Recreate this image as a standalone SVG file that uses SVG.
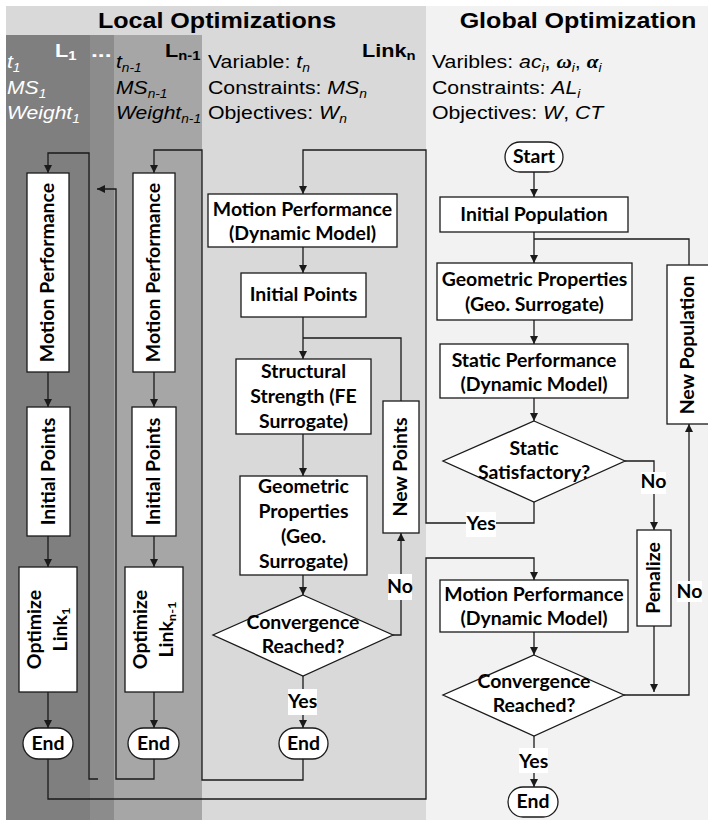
<svg xmlns="http://www.w3.org/2000/svg" width="708" height="820" viewBox="0 0 708 820">
  <style>
    .bx { fill: #fff; stroke: #1a1a1a; stroke-width: 1.3; }
    .ln { fill: none; stroke: #1a1a1a; stroke-width: 1.3; }
    .arr { marker-end: url(#ah); }
    .t { font-family: Lato, "Open Sans", sans-serif; font-weight: 700; font-size: 18px; text-anchor: middle; fill: #000;
         transform-box: fill-box; transform-origin: center; transform: scaleX(1.08); }
    .lbl { fill: #fff; }
    .hd { font-family: "Liberation Sans", Arial, sans-serif; font-weight: 700; font-size: 22px; text-anchor: middle; fill: #000; }
    .info { font-family: "Liberation Sans", Arial, sans-serif; font-size: 18.5px; fill: #000; }
    .it { font-style: italic; }
    .tag { font-family: "Liberation Sans", Arial, sans-serif; font-weight: 700; font-size: 19px; }
    .gk { font-family: "Liberation Serif", "Times New Roman", serif; font-weight: 700; font-style: italic; }
  </style>
  <defs>
    <marker id="ah" viewBox="0 0 10 10" refX="10" refY="5" markerWidth="8" markerHeight="8" markerUnits="userSpaceOnUse" orient="auto">
      <path d="M0,0 L10,5 L0,10 z" fill="#1a1a1a"/>
    </marker>
  </defs>

  <!-- panels -->
  <g id="panels">
    <rect x="0" y="0" width="708" height="820" fill="#fff"/>
    <rect x="6" y="6" width="420" height="814" fill="#d9d9d9"/>
    <rect x="426" y="6" width="282" height="814" fill="#f2f2f2"/>
    <rect x="6" y="35" width="84" height="785" fill="#7f7f7f"/>
    <rect x="90" y="35" width="24" height="785" fill="#8c8c8c"/>
    <rect x="114" y="35" width="88" height="785" fill="#a6a6a6"/>
  </g>

  <!-- headings -->
  <g id="headings">
    <text class="hd" transform="translate(217,28) scale(1.14,1)">Local Optimizations</text>
    <text class="hd" transform="translate(578,28) scale(1.14,1)">Global Optimization</text>
  </g>

  <!-- link 1 panel info -->
  <g id="info-l1" fill="#fff">
    <text class="tag" fill="#fff" transform="translate(55,57) scale(1.14,1)">L<tspan font-size="13" dy="3">1</tspan></text>
    <text class="tag" fill="#fff" transform="translate(91,57) scale(1.3,1)">...</text>
    <g transform="translate(7,0) scale(1.14,1)" class="info it" fill="#fff">
      <text x="0" y="68" fill="#fff">t<tspan font-size="12" dy="4">1</tspan></text>
      <text x="0" y="94" fill="#fff">MS<tspan font-size="12" dy="4">1</tspan></text>
      <text x="0" y="119" fill="#fff">Weight<tspan font-size="12" dy="4">1</tspan></text>
    </g>
  </g>

  <!-- link n-1 panel info -->
  <g id="info-ln1">
    <text class="tag" transform="translate(165,57) scale(1.14,1)">L<tspan font-size="13" dy="3">n-1</tspan></text>
    <g transform="translate(116,0) scale(1.14,1)" class="info it">
      <text x="0" y="68">t<tspan font-size="12" dy="4">n-1</tspan></text>
      <text x="0" y="94">MS<tspan font-size="12" dy="4">n-1</tspan></text>
      <text x="0" y="119">Weight<tspan font-size="12" dy="4">n-1</tspan></text>
    </g>
  </g>

  <!-- link n panel info -->
  <g id="info-ln">
    <text class="tag" transform="translate(362,57) scale(1.14,1)">Link<tspan font-size="13" dy="3">n</tspan></text>
    <g transform="translate(208,0) scale(1.15,1)" class="info">
      <text x="0" y="68">Variable: <tspan class="it">t</tspan><tspan class="it" font-size="12" dy="4">n</tspan></text>
      <text x="0" y="94">Constraints: <tspan class="it">MS</tspan><tspan class="it" font-size="12" dy="4">n</tspan></text>
      <text x="0" y="119">Objectives: <tspan class="it">W</tspan><tspan class="it" font-size="12" dy="4">n</tspan></text>
    </g>
  </g>

  <!-- global panel info -->
  <g id="info-global">
    <g transform="translate(432,0) scale(1.15,1)" class="info">
      <text x="0" y="68">Varibles: <tspan class="it">ac</tspan><tspan class="it" font-size="12" dy="4">i</tspan><tspan dy="-4">, </tspan><tspan class="gk">ω</tspan><tspan class="it" font-size="12" dy="4">i</tspan><tspan dy="-4">, </tspan><tspan class="gk">α</tspan><tspan class="it" font-size="12" dy="4">i</tspan></text>
      <text x="0" y="94">Constraints: <tspan class="it">AL</tspan><tspan class="it" font-size="12" dy="4">i</tspan></text>
      <text x="0" y="119">Objectives: <tspan class="it">W</tspan>, <tspan class="it">CT</tspan></text>
    </g>
  </g>

  <!-- connectors -->
  <g id="connectors">
    <!-- link 1 chain -->
    <path class="ln arr" d="M98,779 H89 V153 H48 V173"/>
    <path class="ln arr" d="M48,372 V407"/>
    <path class="ln arr" d="M48,536 V567"/>
    <path class="ln arr" d="M48,692 V728"/>
    <path class="ln arr" d="M48,759 V799 H426 V558 H534 V580"/>
    <!-- link n-1 chain -->
    <path class="ln arr" d="M154,759 V779 H116 V189 H97"/>
    <path class="ln arr" d="M303,759 V780 H202 V150 H154 V173"/>
    <path class="ln arr" d="M154,372 V407"/>
    <path class="ln arr" d="M154,536 V567"/>
    <path class="ln arr" d="M154,692 V728"/>
    <!-- link n chain -->
    <path class="ln arr" d="M534,502 V523 H426 V150 H303 V194"/>
    <path class="ln arr" d="M303,247 V273"/>
    <path class="ln arr" d="M303,317 V359"/>
    <path class="ln" d="M401,401 V338 H303"/>
    <path class="ln arr" d="M303,434 V476"/>
    <path class="ln arr" d="M303,575 V595"/>
    <path class="ln arr" d="M393,635 H401 V533"/>
    <path class="ln arr" d="M303,676 V728"/>
    <!-- global chain -->
    <path class="ln arr" d="M534,172 V197"/>
    <path class="ln arr" d="M534,232 V263"/>
    <path class="ln" d="M689,265 V239 H534"/>
    <path class="ln arr" d="M534,320 V344"/>
    <path class="ln arr" d="M534,398 V421"/>
    <path class="ln arr" d="M625,461 H654 V530"/>
    <path class="ln arr" d="M534,632 V655"/>
    <path class="ln arr" d="M654,626 V692"/>
    <path class="ln arr" d="M624,695 H689 V424"/>
    <path class="ln arr" d="M534,736 V787"/>
    <!-- branch labels -->
    <rect class="lbl" x="388" y="574" width="24" height="26"/>
    <text class="t" x="400" y="593">No</text>
    <rect class="lbl" x="288" y="689" width="29" height="26"/>
    <text class="t" x="302.5" y="708">Yes</text>
    <rect class="lbl" x="641" y="472" width="25" height="22"/>
    <text class="t" x="653.5" y="488">No</text>
    <rect class="lbl" x="466" y="512" width="30" height="25"/>
    <text class="t" x="481" y="530">Yes</text>
    <rect class="lbl" x="677" y="581" width="25" height="21"/>
    <text class="t" x="689.5" y="598">No</text>
    <rect class="lbl" x="519" y="748" width="29" height="25"/>
    <text class="t" x="533.5" y="768">Yes</text>
  </g>

  <!-- link 1 nodes -->
  <g id="l1-motion">
    <rect class="bx" x="27" y="173" width="42" height="199"/>
    <g transform="translate(48,272.5) rotate(-90)"><text class="t" y="6">Motion Performance</text></g>
  </g>
  <g id="l1-initial">
    <rect class="bx" x="27" y="407" width="43" height="129"/>
    <g transform="translate(48.5,471.5) rotate(-90)"><text class="t" y="6">Initial Points</text></g>
  </g>
  <g id="l1-optimize">
    <rect class="bx" x="19" y="567" width="58" height="125"/>
    <g transform="translate(48,629.5) rotate(-90)"><text class="t" y="-7">Optimize</text><text class="t" y="19">Link<tspan font-size="12" dy="3">1</tspan></text></g>
  </g>
  <g id="l1-end">
    <rect class="bx" x="23" y="728" width="50" height="31" rx="15.5"/>
    <text class="t" x="48" y="750">End</text>
  </g>

  <!-- link n-1 nodes -->
  <g id="ln1-motion">
    <rect class="bx" x="133" y="173" width="42" height="199"/>
    <g transform="translate(154,272.5) rotate(-90)"><text class="t" y="6">Motion Performance</text></g>
  </g>
  <g id="ln1-initial">
    <rect class="bx" x="132" y="407" width="44" height="129"/>
    <g transform="translate(154,471.5) rotate(-90)"><text class="t" y="6">Initial Points</text></g>
  </g>
  <g id="ln1-optimize">
    <rect class="bx" x="125" y="567" width="58" height="125"/>
    <g transform="translate(154,629.5) rotate(-90)"><text class="t" y="-7">Optimize</text><text class="t" y="19">Link<tspan font-size="12" dy="3">n-1</tspan></text></g>
  </g>
  <g id="ln1-end">
    <rect class="bx" x="128" y="728" width="51" height="31" rx="15.5"/>
    <text class="t" x="153.5" y="750">End</text>
  </g>

  <!-- link n nodes -->
  <g id="ln-motion">
    <rect class="bx" x="208" y="194" width="189" height="53"/>
    <text class="t" x="302.5" y="216">Motion Performance</text>
    <text class="t" x="302.5" y="240">(Dynamic Model)</text>
  </g>
  <g id="ln-initial">
    <rect class="bx" x="241" y="273" width="125" height="44"/>
    <text class="t" x="303.5" y="301">Initial Points</text>
  </g>
  <g id="ln-structural">
    <rect class="bx" x="236" y="359" width="135" height="75"/>
    <text class="t" x="303.5" y="378">Structural</text>
    <text class="t" x="303.5" y="403">Strength (FE</text>
    <text class="t" x="303.5" y="428">Surrogate)</text>
  </g>
  <g id="ln-geometric">
    <rect class="bx" x="240" y="476" width="127" height="99"/>
    <text class="t" x="303.5" y="493">Geometric</text>
    <text class="t" x="303.5" y="518">Properties</text>
    <text class="t" x="303.5" y="543">(Geo.</text>
    <text class="t" x="303.5" y="568">Surrogate)</text>
  </g>
  <g id="ln-convergence">
    <polygon class="bx" points="303,595 393,635 303,676 213,635"/>
    <text class="t" x="303" y="629">Convergence</text>
    <text class="t" x="303" y="653">Reached?</text>
  </g>
  <g id="ln-newpoints">
    <rect class="bx" x="383" y="401" width="36" height="132"/>
    <g transform="translate(401,467) rotate(-90)"><text class="t" y="6">New Points</text></g>
  </g>
  <g id="ln-end">
    <rect class="bx" x="279" y="728" width="49" height="31" rx="15.5"/>
    <text class="t" x="303.5" y="750">End</text>
  </g>

  <!-- global nodes -->
  <g id="g-start">
    <rect class="bx" x="505" y="142" width="58" height="30" rx="15"/>
    <text class="t" x="534" y="163">Start</text>
  </g>
  <g id="g-initial">
    <rect class="bx" x="440" y="197" width="188" height="35"/>
    <text class="t" x="534" y="221">Initial Population</text>
  </g>
  <g id="g-geometric">
    <rect class="bx" x="437" y="263" width="195" height="57"/>
    <text class="t" x="534.5" y="286">Geometric Properties</text>
    <text class="t" x="534.5" y="311">(Geo. Surrogate)</text>
  </g>
  <g id="g-static">
    <rect class="bx" x="440" y="344" width="188" height="54"/>
    <text class="t" x="534" y="367">Static Performance</text>
    <text class="t" x="534" y="391">(Dynamic Model)</text>
  </g>
  <g id="g-satisfactory">
    <polygon class="bx" points="534,421 625,461 534,502 443,461"/>
    <text class="t" x="534" y="455">Static</text>
    <text class="t" x="534" y="479">Satisfactory?</text>
  </g>
  <g id="g-penalize">
    <rect class="bx" x="637" y="530" width="34" height="96"/>
    <g transform="translate(654,578) rotate(-90)"><text class="t" y="6">Penalize</text></g>
  </g>
  <g id="g-newpop">
    <rect class="bx" x="667" y="265" width="42" height="159"/>
    <g transform="translate(688,345) rotate(-90)"><text class="t" y="6">New Population</text></g>
  </g>
  <g id="g-motion">
    <rect class="bx" x="440" y="580" width="188" height="52"/>
    <text class="t" x="534" y="601">Motion Performance</text>
    <text class="t" x="534" y="625">(Dynamic Model)</text>
  </g>
  <g id="g-convergence">
    <polygon class="bx" points="534,655 624,695 534,736 443,695"/>
    <text class="t" x="534" y="688">Convergence</text>
    <text class="t" x="534" y="712">Reached?</text>
  </g>
  <g id="g-end">
    <rect class="bx" x="508" y="787" width="50" height="30" rx="15"/>
    <text class="t" x="533" y="808">End</text>
  </g>
</svg>
